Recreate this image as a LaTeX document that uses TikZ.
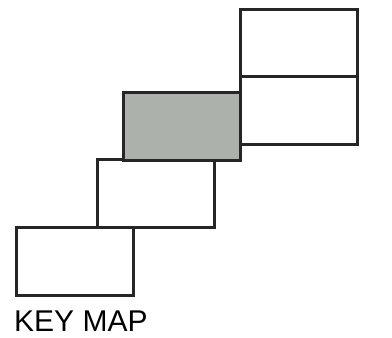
\documentclass[tikz,border=0pt]{standalone}
\usepackage{fontspec}
\setmainfont{Liberation Sans}
\definecolor{keygray}{RGB}{172,177,172}
\begin{document}
\begin{tikzpicture}[x=1pt,y=1pt,
  sheet/.style={draw=black!85,line width=3pt,fill=white,minimum width=117pt,minimum height=68pt,inner sep=0pt,outer sep=0pt},
  current/.style={sheet,fill=keygray}]
\useasboundingbox (0,0) rectangle (392,338);
\node[sheet,anchor=north west] (r1) at (240,328) {};
\node[sheet,anchor=north west] (r2) at (240,261) {};
\node[sheet,anchor=north west] (r4) at (16,110) {};
\node[sheet,anchor=north west] (r3) at (97,178) {};
\node[current,anchor=north west] (g) at (123,245) {};
\node[anchor=base west,inner sep=0pt,font=\fontsize{30}{30}\selectfont] (t) at (14,6) {KEY MAP};
\end{tikzpicture}
\end{document}
